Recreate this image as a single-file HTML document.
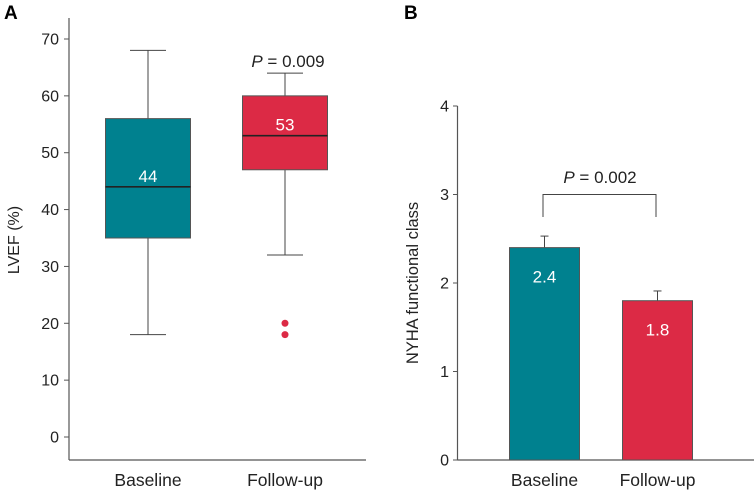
<!DOCTYPE html>
<html><head><meta charset="utf-8"><style>
body{margin:0;background:#fff}
svg{display:block;font-family:"Liberation Sans",Arial,sans-serif}
</style></head><body>
<svg id="c" width="754" height="494" viewBox="0 0 754 494">
<text x="4" y="19" font-size="19" font-weight="bold">A</text>
<text x="404" y="19" font-size="19" font-weight="bold">B</text>
<g id="pa"></g>
<g id="pb"></g>
</svg>
<script>
const NS="http://www.w3.org/2000/svg";
const categories=["Baseline","Follow-up"];
const boxMin=[18,32], boxQ1=[35,47], boxMedian=[44,53], boxQ3=[56,60], boxMax=[68,64];
const outliers=[[],[20,18]];
const lvefTicks=[0,10,20,30,40,50,60,70];
const nyhaMeans=[2.4,1.8];
const nyhaErr=[0.13,0.11];
const nyhaTicks=[0,1,2,3,4];
const colors=["#00818f","#dc2a45"];
function mk(p,t,a,txt){const e=document.createElementNS(NS,t);for(const k in a)e.setAttribute(k,a[k]);if(txt!==undefined)e.textContent=txt;p.appendChild(e);return e;}
// Panel A
const A=document.getElementById('pa');
const yA=v=>437-v*(437-39)/70;
const xA=i=>[148,285][i];
mk(A,'line',{x1:69,y1:18,x2:69,y2:460,stroke:'#555','stroke-width':1.2});
mk(A,'line',{x1:69,y1:460,x2:366,y2:460,stroke:'#555','stroke-width':1.2});
lvefTicks.forEach(v=>{
 const t=mk(A,'line',{x1:64,y1:yA(v),x2:69,y2:yA(v),stroke:'#555'});
 
 const l=mk(A,'text',{x:59,y:yA(v)+5.5,'font-size':16,'text-anchor':'end',fill:'#222'},v);
 
});
const ta=mk(A,'text',{transform:'translate(19,240) rotate(-90)','font-size':16,'text-anchor':'middle',fill:'#222'},'LVEF (%)');

categories.forEach((c,i)=>{
 const x=xA(i),w=85;
 const g=mk(A,'g',{});
 
 mk(g,'line',{x1:x,y1:yA(boxMax[i]),x2:x,y2:yA(boxQ3[i]),stroke:'#444'});
 mk(g,'line',{x1:x,y1:yA(boxQ1[i]),x2:x,y2:yA(boxMin[i]),stroke:'#444'});
 mk(g,'line',{x1:x-18,y1:yA(boxMax[i]),x2:x+18,y2:yA(boxMax[i]),stroke:'#444'});
 mk(g,'line',{x1:x-18,y1:yA(boxMin[i]),x2:x+18,y2:yA(boxMin[i]),stroke:'#444'});
 mk(g,'rect',{x:x-w/2,y:yA(boxQ3[i]),width:w,height:yA(boxQ1[i])-yA(boxQ3[i]),fill:colors[i],stroke:'#555'});
 mk(g,'line',{x1:x-w/2,y1:yA(boxMedian[i]),x2:x+w/2,y2:yA(boxMedian[i]),stroke:'#222','stroke-width':1.6});
 const ml=mk(g,'text',{x:x,y:yA(boxMedian[i])-5,'font-size':17,'text-anchor':'middle',fill:'#fff'},boxMedian[i]);
 
 outliers[i].forEach(o=>{const d=mk(g,'circle',{cx:x,cy:yA(o),r:3.5,fill:colors[i]});
  });
 const xl=mk(A,'text',{x:x,y:486,'font-size':17.5,'text-anchor':'middle',fill:'#222'},c);
 
});
const pa=mk(A,'text',{x:288,y:67,'font-size':17,'text-anchor':'middle',fill:'#222'});

pa.innerHTML='<tspan font-style="italic">P</tspan> = 0.009';
// Panel B
const B=document.getElementById('pb');
const yB=v=>460-v*(460-106)/4;
const xB=i=>[544.5,657.5][i];
mk(B,'line',{x1:457.5,y1:106,x2:457.5,y2:460,stroke:'#555','stroke-width':1.2});
mk(B,'line',{x1:457.5,y1:460,x2:754,y2:460,stroke:'#555','stroke-width':1.2});
nyhaTicks.forEach(v=>{
 const t=mk(B,'line',{x1:453,y1:yB(v),x2:457.5,y2:yB(v),stroke:'#555'});
 
 const l=mk(B,'text',{x:449,y:yB(v)+5.5,'font-size':16,'text-anchor':'end',fill:'#222'},v);
 
});
const tb=mk(B,'text',{transform:'translate(418,283) rotate(-90)','font-size':16.5,'text-anchor':'middle',fill:'#222'},'NYHA functional class');

categories.forEach((c,i)=>{
 const x=xB(i),w=70;
 const g=mk(B,'g',{});
 
 const top=yB(nyhaMeans[i]+nyhaErr[i]);
 mk(g,'line',{x1:x,y1:yB(nyhaMeans[i]),x2:x,y2:top,stroke:'#444'});
 mk(g,'line',{x1:x-4,y1:top,x2:x+4,y2:top,stroke:'#444'});
 mk(g,'rect',{x:x-w/2,y:yB(nyhaMeans[i]),width:w,height:yB(0)-yB(nyhaMeans[i]),fill:colors[i],stroke:'#555'});
 const vl=mk(g,'text',{x:x,y:yB(nyhaMeans[i])+35,'font-size':17,'text-anchor':'middle',fill:'#fff'},nyhaMeans[i].toFixed(1));
 
 const xl=mk(B,'text',{x:x,y:486,'font-size':17.5,'text-anchor':'middle',fill:'#222'},c);
 
});
const br=mk(B,'path',{d:`M${xB(0)-1.5},217 V${yB(3)} H${xB(1)-1.5} V217`,fill:'none',stroke:'#444'});

const pb=mk(B,'text',{x:600,y:183,'font-size':17,'text-anchor':'middle',fill:'#222'});

pb.innerHTML='<tspan font-style="italic">P</tspan> = 0.002';
</script>
</body></html>
